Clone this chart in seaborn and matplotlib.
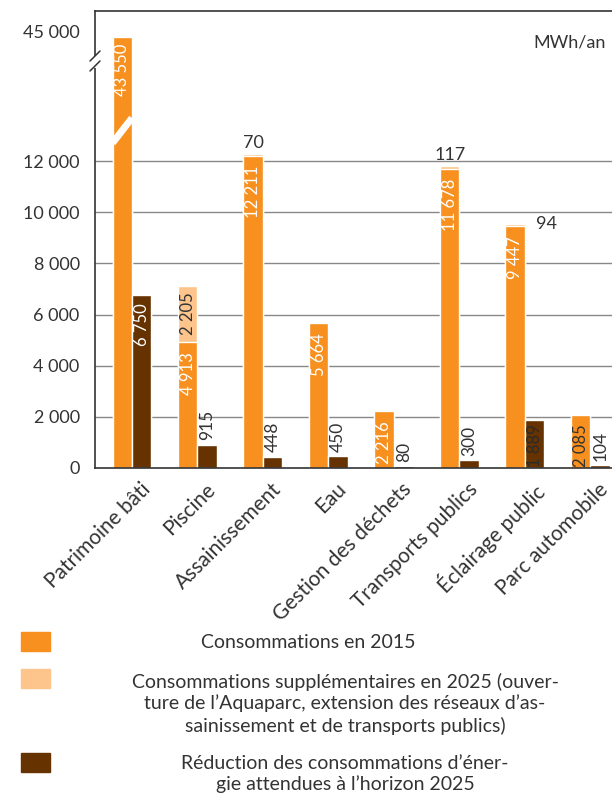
import numpy as np
import pandas as pd
import matplotlib
matplotlib.use("Agg")
import matplotlib.pyplot as plt
from matplotlib.patches import Rectangle
from matplotlib.lines import Line2D
import seaborn as sns

# values in MWh/an
categories = ["Patrimoine bâti", "Piscine", "Assainissement", "Eau",
              "Gestion des déchets", "Transports publics", "Éclairage public",
              "Parc automobile"]
conso_2015 = [43550, 4913, 12211, 5664, 2216, 11678, 9447, 2085]
supp_2025 = [0, 2205, 70, 0, 0, 117, 94, 0]
reduction = [6750, 915, 448, 450, 80, 300, 1889, 104]
ytick_values = [0, 2000, 4000, 6000, 8000, 10000, 12000, 45000]

ORANGE = "#F7901E"
LIGHT = "#FDC58C"
DARK = "#663300"
TXT = "#333333"

# broken axis: linear up to BREAK, compressed above
BREAK = 13000
K = 0.1264


def fwd(v):
    v = np.asarray(v, dtype=float)
    return np.where(v <= BREAK, v, BREAK + (v - BREAK) * K)


def inv(s):
    s = np.asarray(s, dtype=float)
    return np.where(s <= BREAK, s, BREAK + (s - BREAK) / K)


def fmt(v):
    return f"{v:,}".replace(",", " ")


W, H = 612, 797


def px(x, y):
    # image pixel -> figure fraction
    return x / W, 1 - y / H


sns.set_theme(style="white")
plt.rcParams["font.family"] = ["Lato", "DejaVu Sans"]
plt.rcParams["text.color"] = TXT

fig = plt.figure(figsize=(6.12, 7.97), dpi=100)
ax = fig.add_axes([95 / W, 1 - 468 / H, 1 - 95 / W, (468 - 11) / H])

total_df = pd.DataFrame({
    "cat": categories * 2,
    "serie": ["conso"] * 8 + ["reduc"] * 8,
    "val": [a + b for a, b in zip(conso_2015, supp_2025)] + reduction,
})
base_df = pd.DataFrame({
    "cat": categories * 2,
    "serie": ["conso"] * 8 + ["reduc"] * 8,
    "val": conso_2015 + reduction,
})

ax.set_yscale("function", functions=(fwd, inv))
sns.barplot(data=total_df, x="cat", y="val", hue="serie", width=0.595,
            palette={"conso": LIGHT, "reduc": DARK}, saturation=1,
            legend=False, ax=ax)
sns.barplot(data=base_df, x="cat", y="val", hue="serie", width=0.595,
            palette={"conso": ORANGE, "reduc": DARK}, saturation=1,
            legend=False, ax=ax)

ax.set_xlim(-0.565, 7.33)
ax.set_ylim(0, 51490)
ax.set_xlabel("")
ax.set_ylabel("")

ax.set_yticks(ytick_values)
ax.set_yticklabels([fmt(v) for v in ytick_values], fontsize=13, color=TXT)
ax.tick_params(axis="y", length=0, pad=11)
ax.yaxis.grid(True, color="#888888", lw=1)
ax.get_ygridlines()[0].set_visible(False)
ax.get_ygridlines()[-1].set_visible(False)

ax.set_xticks(np.arange(len(categories)) + 0.12)
ax.set_xticklabels(categories, rotation=45, ha="right",
                   rotation_mode="anchor", fontsize=15, color=TXT)
ax.tick_params(axis="x", length=0, pad=8)

for side in ["left", "bottom", "top"]:
    ax.spines[side].set_color(TXT)
    ax.spines[side].set_linewidth(1.2)
ax.spines["right"].set_visible(False)

bw = 0.595 / 2
vfs = 12

# labels on the 2015 bars
for i, v in enumerate(conso_2015):
    xc = i - bw / 2
    col = TXT if categories[i] == "Parc automobile" else "white"
    if v > 40000:
        ax.text(xc, 33250, fmt(v), rotation=90, ha="center", va="center",
                color="white", fontsize=vfs)
    else:
        ax.annotate(fmt(v), (xc, v), xytext=(0, -7), textcoords="offset points",
                    rotation=90, ha="center", va="top", color=col, fontsize=vfs)

# labels on the 2025 extra consumption
for i, s in enumerate(supp_2025):
    if s == 0:
        continue
    xc = i - bw / 2
    top = conso_2015[i] + s
    if s > 1000:
        ax.text(xc, conso_2015[i] + s / 2, fmt(s), rotation=90, ha="center",
                va="center", color=TXT, fontsize=vfs)
    elif categories[i] == "Éclairage public":
        ax.annotate(fmt(s), (i, top), xytext=(8, 0), textcoords="offset points",
                    ha="left", va="center", color=TXT, fontsize=13)
    else:
        ax.annotate(fmt(s), (xc, top), xytext=(0, 2), textcoords="offset points",
                    ha="center", va="bottom", color=TXT, fontsize=13)

# labels on the reduction bars
for i, r in enumerate(reduction):
    xc = i + bw / 2
    if r > 5000:
        ax.annotate(fmt(r), (xc, r), xytext=(0, -6), textcoords="offset points",
                    rotation=90, ha="center", va="top", color="white", fontsize=vfs)
    elif r > 1500:
        ax.annotate(fmt(r), (xc, r), xytext=(0, -3), textcoords="offset points",
                    rotation=90, ha="center", va="top", color="#2a2a2a", fontsize=vfs)
    else:
        ax.annotate(fmt(r), (xc, r), xytext=(0, 3), textcoords="offset points",
                    rotation=90, ha="center", va="bottom", color=TXT, fontsize=12.5)

# white slash across the tall bar
ax.plot([-bw, 0], [12705, 18400], color="white", lw=5, solid_capstyle="butt")

# break marks on the left spine
x0, y0 = px(95, 58)
x1, y1 = px(95, 66)
fig.add_artist(Line2D([x0, x1], [y0, y1], color="white", lw=3,
                      transform=fig.transFigure))
for yy in (56, 66):
    xa, ya = px(90, yy + 5)
    xb, yb = px(100, yy - 5)
    fig.add_artist(Line2D([xa, xb], [ya, yb], color=TXT, lw=1.1,
                          transform=fig.transFigure))

fig.text(*px(606, 42), "MWh/an", ha="right", va="center", fontsize=13,
         color=TXT)

# legend
legend_items = [
    (ORANGE, 632, 308, 642, "Consommations en 2015"),
    (LIGHT, 669, 345, 703.5, "Consommations supplémentaires en 2025 (ouver-\n"
                             "ture de l’Aquaparc, extension des réseaux d’as-\n"
                             "sainissement et de transports publics)"),
    (DARK, 753, 345, 774, "Réduction des consommations d’éner-\n"
                          "gie attendues à l’horizon 2025"),
]
for col, sq_top, text_x, text_y, label in legend_items:
    xs, ys = px(21, sq_top + 19)
    fig.add_artist(Rectangle((xs, ys), 29 / W, 19 / H, color=col,
                             transform=fig.transFigure))
    fig.text(*px(text_x, text_y), label, ha="center", va="center",
             fontsize=14, color=TXT, linespacing=1.27)

fig.savefig("out.png", dpi=100)
